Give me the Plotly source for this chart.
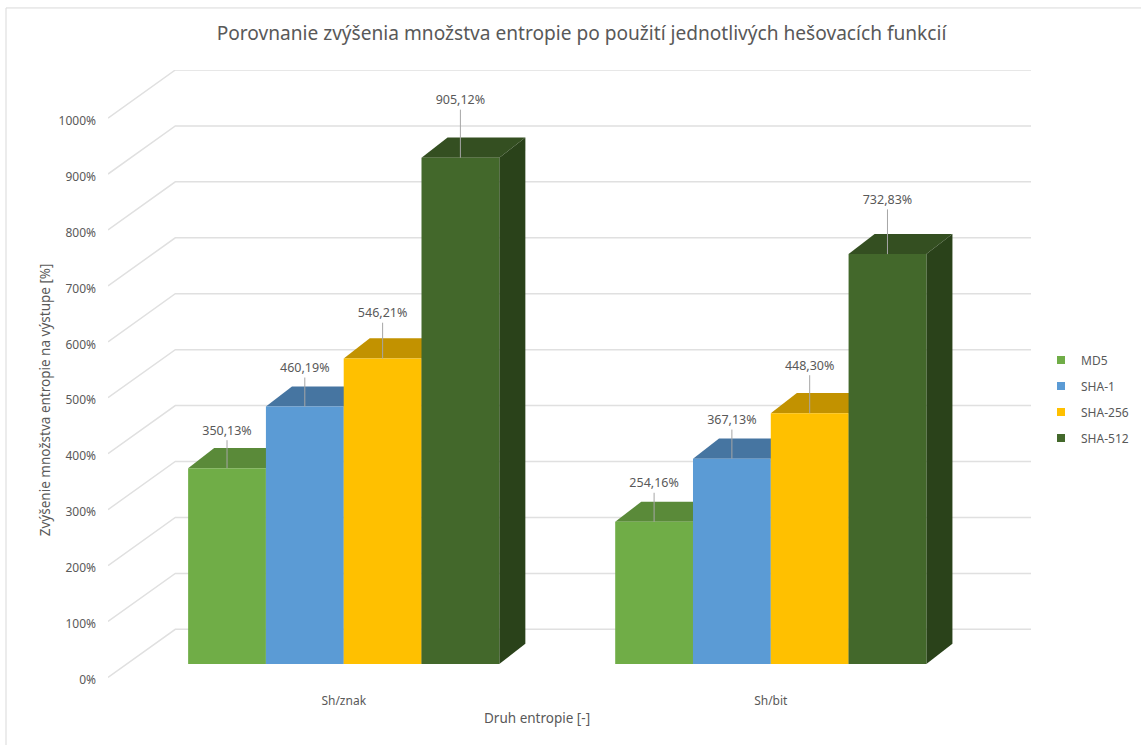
import plotly.graph_objects as go

categories = ["Sh/znak", "Sh/bit"]
md5 = [350.13, 254.16]
sha1 = [460.19, 367.13]
sha256 = [546.21, 448.30]
sha512 = [905.12, 732.83]
series_names = ["MD5", "SHA-1", "SHA-256", "SHA-512"]
y_ticks = list(range(0, 1001, 100))
y_labels = [f"{t}%" for t in y_ticks]

series = [md5, sha1, sha256, sha512]
front = ["#70AD47", "#5B9BD5", "#FFC000", "#43682B"]
top = ["#5A8A39", "#4675A1", "#C29200", "#344F21"]
side = ["#486E2C", "#38597A", "#997300", "#2A421A"]

# vzhlad: vsetko v jednotkach osi (sirka stlpca = 1)
GROUP_X = [3.03, 8.52]
BASE = 24
DX, DY = 0.335, 36      # hlbka stlpca
WALL_DX, WALL_DY = 0.865, 86   # posun zadnej steny
X_MAX, Y_MIN, Y_MAX = 11.865, -10, 1086
TICK_NUDGE = 4.5
LABEL_LIFT = [[65, 67], [67, 67], [79, 83], [101, 95]]  # vyska popisku nad stlpcom
GRID = "#E0E0E0"
TEXT = "#595959"
FONT = "Noto Sans"

# plocha grafu v pixeloch, pre popisy mimo osi
PLOT_L, PLOT_W = 108, 923
PLOT_B, PLOT_H = 682.6, 612.6


def px(x):
    return (x - PLOT_L) / PLOT_W


def py(y):
    return (PLOT_B - y) / PLOT_H


fig = go.Figure()

# zadna stena a podlaha
for t in y_ticks:
    fig.add_trace(go.Scatter(x=[0, WALL_DX, X_MAX], y=[t, t + WALL_DY, t + WALL_DY],
                             mode="lines", line=dict(color=GRID, width=1.5),
                             hoverinfo="skip", showlegend=False))

# horne a bocne steny
for s, vals in enumerate(series):
    for g, v in enumerate(vals):
        left = GROUP_X[g] - 2 + s
        right = left + 1
        tp = BASE + v
        fig.add_trace(go.Scatter(x=[left, right, right + DX, left + DX, left],
                                 y=[tp, tp, tp + DY, tp + DY, tp],
                                 mode="lines", fill="toself", fillcolor=top[s],
                                 line=dict(width=0), hoverinfo="skip", showlegend=False))
        fig.add_trace(go.Scatter(x=[right, right + DX, right + DX, right, right],
                                 y=[BASE, BASE + DY, tp + DY, tp, BASE],
                                 mode="lines", fill="toself", fillcolor=side[s],
                                 line=dict(width=0), hoverinfo="skip", showlegend=False))

# predne steny
for s, vals in enumerate(series):
    fig.add_trace(go.Bar(x=GROUP_X, y=vals, base=BASE, name=series_names[s],
                         marker=dict(color=front[s], line=dict(width=0)),
                         showlegend=False, xaxis="x2", yaxis="y2"))

# legenda s mensimi stvorcekmi
for s, name in enumerate(series_names):
    fig.add_trace(go.Scatter(x=[None], y=[None], mode="markers", name=name,
                             marker=dict(symbol="square", size=8, color=front[s]),
                             legendgroup=name))

# popisky s vodiacou ciarou
for s, vals in enumerate(series):
    for g, v in enumerate(vals):
        cx = GROUP_X[g] - 1.5 + s
        tp = BASE + v
        lift = LABEL_LIFT[s][g]
        fig.add_trace(go.Scatter(x=[cx, cx], y=[tp, tp + lift - 15], mode="lines",
                                 line=dict(color="#A6A6A6", width=1),
                                 hoverinfo="skip", showlegend=False,
                                 xaxis="x2", yaxis="y2"))
        fig.add_trace(go.Scatter(x=[cx], y=[tp + lift], mode="text",
                                 text=[f"{v:.2f}%".replace(".", ",")],
                                 textposition="middle center",
                                 textfont=dict(size=12.5, color=TEXT, family=FONT),
                                 hoverinfo="skip", showlegend=False, cliponaxis=False,
                                 xaxis="x2", yaxis="y2"))

fig.update_layout(
    width=1141, height=745,
    margin=dict(l=PLOT_L, r=110, t=70, b=745 - PLOT_B),
    paper_bgcolor="white", plot_bgcolor="white",
    font=dict(family=FONT, size=12, color=TEXT),
    title=dict(text="Porovnanie zvýšenia množstva entropie po použití jednotlivých hešovacích funkcií",
               x=px(581.5), xanchor="center", xref="paper", y=1 - 33 / 745, yanchor="middle",
               font=dict(size=19.13, color=TEXT, family=FONT)),
    barmode="group", bargap=0.2714, bargroupgap=0,
    xaxis=dict(range=[0, X_MAX], tickvals=GROUP_X, ticktext=categories, showgrid=False,
               zeroline=False, showline=False, ticks="", ticklabelstandoff=9,
               tickfont=dict(size=12, color=TEXT)),
    yaxis=dict(range=[Y_MIN, Y_MAX], tickvals=[t - TICK_NUDGE for t in y_ticks], ticktext=y_labels,
               showgrid=False, zeroline=False, showline=False, ticks="", ticklabelstandoff=11,
               tickfont=dict(size=12, color=TEXT)),
    xaxis2=dict(range=[0, X_MAX], overlaying="x", visible=False),
    yaxis2=dict(range=[Y_MIN, Y_MAX], overlaying="y", visible=False),
    legend=dict(x=1056 / 1141, xref="container", y=1 - 399 / 745, yref="container",
                xanchor="left", yanchor="middle", tracegroupgap=7, indentation=-15,
                font=dict(size=12, color=TEXT, family=FONT)),
    annotations=[
        dict(text="Zvýšenie množstva entropie na výstupe [%]", textangle=-90, showarrow=False,
             xref="paper", yref="paper", x=px(45), y=py(400),
             xanchor="center", yanchor="middle", font=dict(size=13.5, color=TEXT)),
        dict(text="Druh entropie [-]", showarrow=False,
             xref="paper", yref="paper", x=px(537), y=py(718),
             xanchor="center", yanchor="middle", font=dict(size=13.5, color=TEXT)),
    ],
    shapes=[
        dict(type="line", xref="paper", yref="paper", x0=px(6), x1=px(1141),
             y0=py(8), y1=py(8), line=dict(color="#D9D9D9", width=1)),
        dict(type="line", xref="paper", yref="paper", x0=px(6), x1=px(6),
             y0=py(8), y1=py(745), line=dict(color="#D9D9D9", width=1)),
    ],
)

fig.write_html("out.html", config=dict(displayModeBar=False),
               post_script="document.body.style.margin='0';document.body.style.overflow='hidden';")
